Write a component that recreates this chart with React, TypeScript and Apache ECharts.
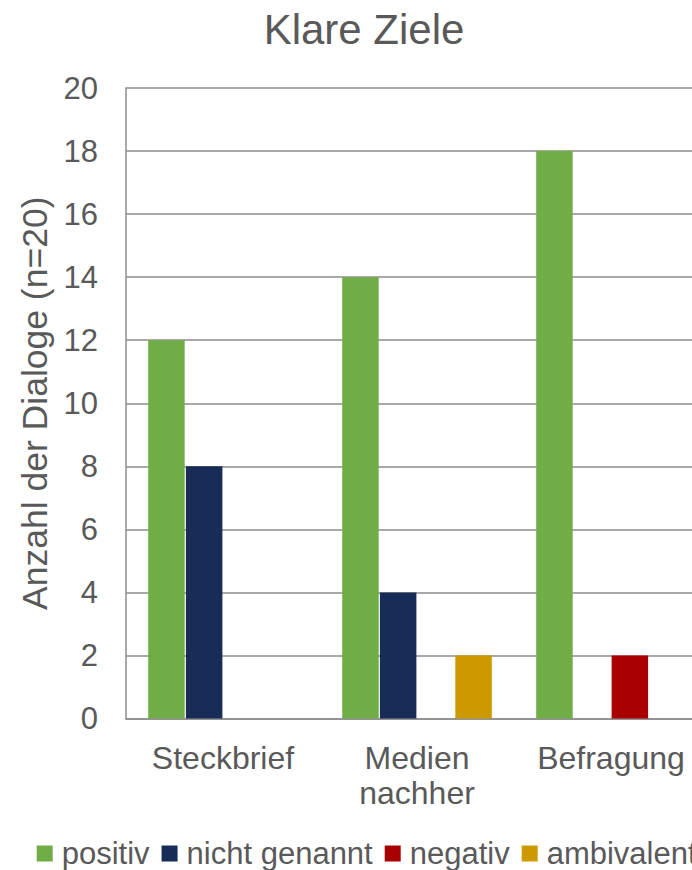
import React, { useEffect, useRef } from "react";
import * as echarts from "echarts";

const categories = ["Steckbrief", "Medien\nnachher", "Befragung"];
const seriesNames = ["positiv", "nicht genannt", "negativ", "ambivalent"];
const positiv = [12, 14, 18];
const nichtGenannt = [8, 4, 0];
const negativ = [0, 0, 2];
const ambivalent = [0, 2, 0];
const yTicks = { min: 0, max: 20, interval: 2 };
const colors = ["#70AD47", "#172C57", "#A80000", "#CC9A00"];

const TEXT = "#595959";
const LINE = "#8C8C8C";
const FONT = "Liberation Sans, Arial, sans-serif";

export default function App() {
  const ref = useRef<HTMLDivElement>(null);
  useEffect(() => {
    if (!ref.current) return;
    const chart = echarts.init(ref.current, undefined, { renderer: "svg" });
    const values = [positiv, nichtGenannt, negativ, ambivalent];
    chart.setOption({
      animation: false,
      textStyle: { fontFamily: FONT, color: TEXT },
      title: {
        text: "Klare Ziele",
        left: 359,
        textAlign: "center",
        top: 3,
        textStyle: { fontFamily: FONT, fontSize: 42, fontWeight: "normal", color: TEXT },
      },
      legend: {
        data: seriesNames,
        left: 31.7,
        top: 833,
        width: 1400,
        icon: "rect",
        itemWidth: 16,
        itemHeight: 16,
        itemGap: 12,
        textStyle: {
          fontFamily: FONT,
          fontSize: 31,
          color: TEXT,
          padding: [0, 0, 0, 4],
        },
      },
      grid: {
        left: 126,
        top: 88,
        width: 582,
        height: 630.5,
        containLabel: false,
        outerBoundsMode: "none",
      },
      xAxis: {
        type: "category",
        data: categories,
        axisLine: { show: true, lineStyle: { color: LINE, width: 1.5 } },
        axisTick: { show: false },
        axisLabel: { fontFamily: FONT, fontSize: 32, lineHeight: 35, color: TEXT, margin: 22 },
      },
      yAxis: {
        type: "value",
        min: yTicks.min,
        max: yTicks.max,
        interval: yTicks.interval,
        name: "Anzahl der Dialoge (n=20)",
        nameLocation: "middle",
        nameRotate: 90,
        nameGap: 67,
        nameTextStyle: { fontFamily: FONT, fontSize: 35.5, color: TEXT },
        axisLine: { show: true, lineStyle: { color: LINE, width: 1.5 } },
        axisTick: { show: false },
        splitLine: { show: true, lineStyle: { color: LINE, width: 1.5 } },
        axisLabel: { fontFamily: FONT, fontSize: 31, color: TEXT, margin: 28 },
      },
      series: seriesNames.map((name, i) => ({
        name,
        type: "bar",
        data: values[i],
        barWidth: 36.5,
        barGap: "3.3%",
        itemStyle: { color: colors[i] },
      })),
    });
    return () => chart.dispose();
  }, []);
  return (
    <div
      ref={ref}
      style={{ position: "fixed", left: 0, top: 0, width: 692, height: 870, background: "#fff" }}
    />
  );
}
